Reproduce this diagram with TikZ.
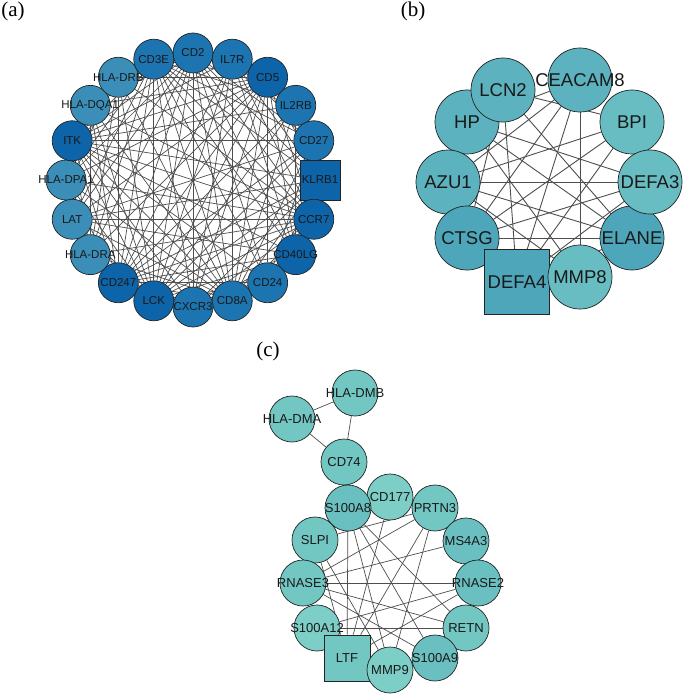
\documentclass[tikz,border=0pt]{standalone}
\usepackage{fontspec}
\setmainfont{Liberation Sans}
\newfontfamily\panelfont{Liberation Serif}
\usetikzlibrary{backgrounds}
\definecolor{adark}{RGB}{14,100,168}
\definecolor{amid}{RGB}{28,117,176}
\definecolor{alight}{RGB}{58,142,184}
\definecolor{bdark}{RGB}{78,166,186}
\definecolor{bmid}{RGB}{92,178,190}
\definecolor{blight}{RGB}{104,189,194}
\definecolor{cmid}{RGB}{114,199,195}
\definecolor{cdark}{RGB}{106,192,192}
\definecolor{clight}{RGB}{124,206,199}
\definecolor{edgegray}{RGB}{78,78,78}
\definecolor{rimgray}{RGB}{35,35,35}
\newcommand\nlab[1]{\makebox[0pt]{#1}}
\begin{document}
\begin{tikzpicture}[x=1pt,y=-1pt,
  gnode/.style={draw=rimgray,line width=0.7pt,inner sep=0pt,text=black!90},
  anode/.style={gnode,minimum size=40pt,font=\fontsize{11.5}{13}\selectfont},
  bnode/.style={gnode,circle,minimum size=64pt,font=\fontsize{18.5}{21}\selectfont},
  bsq/.style={gnode,rectangle,minimum size=65pt,font=\fontsize{18.5}{21}\selectfont},
  cnode/.style={gnode,circle,minimum size=46pt,font=\fontsize{13}{15}\selectfont},
  csq/.style={gnode,rectangle,minimum size=46pt,font=\fontsize{13}{15}\selectfont},
  link/.style={draw=edgegray,line width=0.7pt},
  panel/.style={inner sep=0pt,font=\panelfont\fontsize{21}{24}\selectfont}]
\useasboundingbox (0,0) rectangle (685,695);

% panel labels
\node[panel] (pa) at (13,11) {(a)};
\node[panel] (pb) at (413,11) {(b)};
\node[panel] (pc) at (268,351) {(c)};

% ---------------- (a) ----------------
\foreach \n/\t/\i/\c/\sh in {
  cd2/CD2/0/amid/circle, il7r/IL7R/1/amid/circle, cd5/CD5/2/adark/circle,
  il2rb/IL2RB/3/amid/circle, cd27/CD27/4/amid/circle, klrb1/KLRB1/5/adark/rectangle,
  ccr7/CCR7/6/adark/circle, cd40lg/CD40LG/7/adark/circle, cd24/CD24/8/amid/circle,
  cd8a/CD8A/9/amid/circle, cxcr3/CXCR3/10/amid/circle, lck/LCK/11/adark/circle,
  cd247/CD247/12/adark/circle, hladra/HLA-DRA/13/alight/circle, lat/LAT/14/alight/circle,
  hladpa/HLA-DPA1/15/alight/circle, itk/ITK/16/adark/circle, hladqa/HLA-DQA1/17/alight/circle,
  hladrb/HLA-DRB/18/alight/circle, cd3e/CD3E/19/amid/circle}
{
  \node[anode,shape=\sh,fill=\c] (\n) at ({193+127*cos(90-18*\i)},{180-127*sin(90-18*\i)}) {\nlab{\t}};
}

\begin{scope}[on background layer]
\foreach \a/\b in {
  cd2/il7r, cd2/cd5, cd2/cd27, cd2/klrb1, cd2/ccr7, cd2/cd40lg, cd2/cd24, cd2/cd8a, cd2/cxcr3, cd2/lck, cd2/cd247, cd2/itk, cd2/cd3e,
  il7r/cd5, il7r/il2rb, il7r/cd27, il7r/klrb1, il7r/ccr7, il7r/cd40lg, il7r/cd8a, il7r/cxcr3, il7r/lck, il7r/cd247, il7r/itk, il7r/cd3e,
  cd5/il2rb, cd5/cd27, cd5/klrb1, cd5/ccr7, cd5/cd40lg, cd5/cd24, cd5/cd8a, cd5/cxcr3, cd5/lck, cd5/cd247, cd5/itk, cd5/cd3e,
  il2rb/cd27, il2rb/klrb1, il2rb/ccr7, il2rb/cd40lg, il2rb/cd8a, il2rb/lck, il2rb/cd247, il2rb/itk, il2rb/cd3e,
  cd27/klrb1, cd27/ccr7, cd27/cd40lg, cd27/cd24, cd27/cd8a, cd27/lck, cd27/cd247, cd27/itk, cd27/cd3e,
  klrb1/ccr7, klrb1/cd40lg, klrb1/cd24, klrb1/cd8a, klrb1/cxcr3, klrb1/lck, klrb1/cd247, klrb1/itk, klrb1/cd3e,
  ccr7/cd40lg, ccr7/cd24, ccr7/cd8a, ccr7/cxcr3, ccr7/lck, ccr7/cd247, ccr7/itk, ccr7/cd3e,
  cd40lg/cd24, cd40lg/cd8a, cd40lg/cxcr3, cd40lg/lck, cd40lg/cd247, cd40lg/itk, cd40lg/cd3e,
  cd24/cd8a, cd24/lck, cd24/cd247, cd24/itk, cd24/cd3e,
  cd8a/cxcr3, cd8a/lck, cd8a/cd247, cd8a/itk, cd8a/cd3e,
  cxcr3/lck, cxcr3/cd247, cxcr3/itk, cxcr3/cd3e,
  lck/cd247, lck/itk, lck/cd3e, cd247/itk, cd247/cd3e, itk/cd3e,
  hladra/hladpa, hladra/hladqa, hladra/hladrb, hladpa/hladqa, hladpa/hladrb, hladqa/hladrb,
  hladra/cd247, hladra/lck, hladra/cd3e, hladra/cd2, hladra/itk, hladra/cd8a, hladra/cd5, hladra/ccr7,
  hladpa/cd247, hladpa/lck, hladpa/cd3e, hladpa/cd2, hladpa/itk, hladpa/cd8a, hladpa/cd5, hladpa/ccr7,
  hladqa/cd247, hladqa/lck, hladqa/cd3e, hladqa/cd2, hladqa/itk, hladqa/cd8a, hladqa/cd5, hladqa/ccr7,
  hladrb/cd247, hladrb/lck, hladrb/cd3e, hladrb/cd2, hladrb/itk, hladrb/cd8a, hladrb/cd5, hladrb/ccr7,
  lat/itk, lat/lck, lat/cd247, lat/cd3e, lat/cd2, lat/cd5, lat/cd8a, lat/cd27, lat/ccr7, lat/cd40lg, lat/klrb1}
{
  \draw[link] (\a) -- (\b);
}
\end{scope}

% ---------------- (b) ----------------
\node[bnode,fill=bmid] (cea) at (580,80) {\nlab{CEACAM8}};
\node[bnode,fill=blight] (bpi) at (632,122) {\nlab{BPI}};
\node[bnode,fill=bdark] (elane) at (632,238) {\nlab{ELANE}};
\node[bnode,fill=blight] (defa3) at (650,182) {\nlab{DEFA3}};
\node[bnode,fill=bmid] (hp) at (467,122) {\nlab{HP}};
\node[bnode,fill=bmid] (lcn2) at (503,90) {\nlab{LCN2}};
\node[bnode,fill=bmid] (azu1) at (448,182) {\nlab{AZU1}};
\node[bnode,fill=bdark] (ctsg) at (467,238) {\nlab{CTSG}};
\node[bsq,fill=bdark] (defa4) at (517,282) {\nlab{DEFA4}};
\node[bnode,fill=blight] (mmp8) at (580,277) {\nlab{MMP8}};

\begin{scope}[on background layer]
\foreach \a/\b in {azu1/defa3, ctsg/elane, cea/mmp8, lcn2/defa4, cea/defa4, cea/azu1, cea/hp,
  lcn2/bpi, lcn2/elane, hp/elane, hp/mmp8, azu1/bpi, azu1/elane, ctsg/defa3, ctsg/bpi,
  ctsg/lcn2, defa4/bpi, defa4/defa3, cea/ctsg, hp/defa3, azu1/mmp8, defa4/elane}
{
  \draw[link,line width=0.9pt] (\a) -- (\b);
}
\end{scope}

% ---------------- (c) ----------------
\node[cnode,fill=cmid] (cd74) at (344,462) {\nlab{CD74}};
\node[cnode,fill=cmid] (hladma) at (292,419) {\nlab{HLA-DMA}};
\node[cnode,fill=cmid] (hladmb) at (355,393) {\nlab{HLA-DMB}};
\node[cnode,fill=clight] (cd177) at (390,497) {\nlab{CD177}};
\node[cnode,fill=cdark] (s100a8) at (348,508) {\nlab{S100A8}};
\node[cnode,fill=cmid] (prtn3) at (435,508) {\nlab{PRTN3}};
\node[cnode,fill=cdark] (ms4a3) at (466,541) {\nlab{MS4A3}};
\node[cnode,fill=cdark] (rnase2) at (478,583) {\nlab{RNASE2}};
\node[cnode,fill=cmid] (retn) at (466,628) {\nlab{RETN}};
\node[cnode,fill=cdark] (s100a9) at (435,658) {\nlab{S100A9}};
\node[cnode,fill=cmid] (slpi) at (315,540) {\nlab{SLPI}};
\node[cnode,fill=cmid] (rnase3) at (303,583) {\nlab{RNASE3}};
\node[cnode,fill=clight] (s100a12) at (317,628) {\nlab{S100A12}};
\node[csq,fill=cmid] (ltf) at (347,658) {\nlab{LTF}};
\node[cnode,fill=clight] (mmp9) at (390,670) {\nlab{MMP9}};

\begin{scope}[on background layer]
\foreach \a/\b in {hladma/hladmb, hladmb/cd74, hladma/cd74,
  s100a8/ltf, s100a8/mmp9, s100a8/s100a9, s100a8/retn,
  slpi/prtn3, prtn3/rnase3, prtn3/mmp9, prtn3/ltf,
  cd177/ltf, ms4a3/rnase3, rnase3/rnase2, rnase3/retn, rnase3/s100a9,
  s100a12/retn, rnase2/s100a12, rnase2/ltf, slpi/mmp9, slpi/ltf}
{
  \draw[link] (\a) -- (\b);
}
\end{scope}
\end{tikzpicture}
\end{document}
